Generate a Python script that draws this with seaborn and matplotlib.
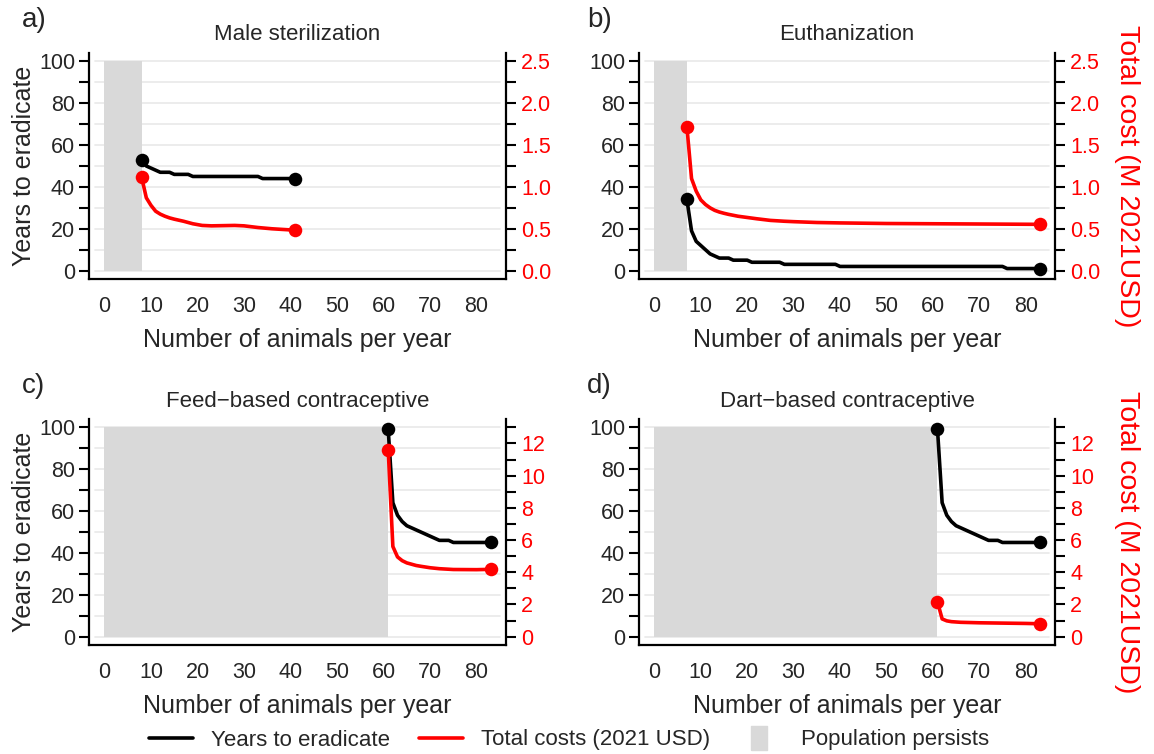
import matplotlib
matplotlib.use("Agg")
import matplotlib.pyplot as plt
from matplotlib.ticker import MultipleLocator, FixedLocator, FormatStrFormatter
from matplotlib.lines import Line2D
import seaborn as sns

sns.set_style("white")
plt.rcParams['font.family'] = ['Liberation Sans', 'DejaVu Sans']

# ---- data ----
titles = ["Male sterilization", "Euthanization", "Feed\u2212based contraceptive", "Dart\u2212based contraceptive"]
letters = ["a)", "b)", "c)", "d)"]
persist_until = [8, 7, 61, 61]      # population persists below this many animals/yr

# a) male sterilization
ms_years_x = [8, 9, 10, 11, 12, 14, 15, 18, 19, 33, 34, 41]
ms_years = [53, 50, 49, 48, 47, 47, 46, 46, 45, 45, 44, 44]
ms_cost_x = [8, 9, 10, 11, 12, 13, 14, 15, 17, 19, 21, 23, 28, 30, 33, 36, 41]
ms_cost = [1.115, 0.87, 0.78, 0.71, 0.675, 0.65, 0.63, 0.615, 0.59, 0.56, 0.54, 0.535, 0.54, 0.535, 0.515, 0.50, 0.483]

# b) euthanization
eu_years_x = [7, 8, 9, 10, 11, 12, 13, 14, 16, 17, 20, 21, 27, 28, 39, 40, 75, 76, 83]
eu_years = [34, 19, 14, 12, 10, 8, 7, 6, 6, 5, 5, 4, 4, 3, 3, 2, 2, 1, 1]
eu_cost_x = [7, 8, 9, 10, 11, 12, 13, 14, 15, 16, 18, 20, 22, 25, 28, 30, 35, 40, 50, 60, 70, 83]
eu_cost = [1.72, 1.10, 0.95, 0.845, 0.79, 0.75, 0.72, 0.70, 0.685, 0.672, 0.65, 0.635, 0.62, 0.60,
           0.59, 0.585, 0.575, 0.57, 0.563, 0.56, 0.557, 0.553]

# c) feed-based contraceptive
fb_years_x = [61, 62, 63, 64, 65, 66, 67, 68, 69, 70, 71, 72, 74, 75, 83]
fb_years = [99, 64, 58, 55, 53, 52, 51, 50, 49, 48, 47, 46, 46, 45, 45]
fb_cost_x = [61, 62, 63, 64, 65, 66, 67, 68, 70, 72, 75, 80, 83]
fb_cost = [11.6, 5.6, 4.95, 4.72, 4.58, 4.5, 4.42, 4.37, 4.28, 4.22, 4.17, 4.16, 4.18]

# d) dart-based contraceptive
db_years_x = [61, 62, 63, 64, 65, 66, 67, 68, 69, 70, 71, 72, 74, 75, 83]
db_years = [99, 64, 58, 55, 53, 52, 51, 50, 49, 48, 47, 46, 46, 45, 45]
db_cost_x = [61, 62, 63, 64, 66, 70, 75, 80, 83]
db_cost = [2.16, 1.10, 0.98, 0.93, 0.89, 0.86, 0.84, 0.82, 0.80]

years_x = [ms_years_x, eu_years_x, fb_years_x, db_years_x]
years = [ms_years, eu_years, fb_years, db_years]
cost_x = [ms_cost_x, eu_cost_x, fb_cost_x, db_cost_x]
cost = [ms_cost, eu_cost, fb_cost, db_cost]

x_max = 83
years_max = 100
cost_top = [2.5, 2.5, 13, 13]       # right axis value at years_max
cost_major = [0.5, 0.5, 2, 2]
cost_minor = [0.25, 0.25, 1, 1]
cost_fmt = ["%.1f", "%.1f", "%d", "%d"]

# ---- layout ----
W, H = 1154, 754
fig = plt.figure(figsize=(W / 100, H / 100), dpi=100)


def rect(l, t, r, b):
    return [l / W, 1 - b / H, (r - l) / W, (b - t) / H]


boxes = [(89, 53, 506, 279), (639, 53, 1055, 279), (89, 419, 506, 645), (639, 419, 1055, 645)]
RED = "#ff0000"
GREY = "#d9d9d9"
LW = 2.6
TICK_FS = 15.5
LAB_FS = 18

for i in range(4):
    ax = fig.add_axes(rect(*boxes[i]))
    ax2 = ax.twinx()
    pad_x = 0.04 * x_max
    pad_y = 0.04 * years_max
    ax.set_xlim(-pad_x, x_max + pad_x)
    ax.set_ylim(-pad_y, years_max + pad_y)
    k = cost_top[i] / years_max
    ax2.set_ylim(-pad_y * k, (years_max + pad_y) * k)

    # horizontal grid
    for g in range(0, years_max + 1, 10):
        ax.axhline(g, xmin=0.015, xmax=0.985, color="#ebebeb", lw=1.3, zorder=0)

    # population persists area
    ax.fill_between([0, persist_until[i]], 0, years_max, color=GREY, lw=0, zorder=1)

    sns.lineplot(x=years_x[i], y=years[i], ax=ax, color="black", lw=LW, zorder=3,
                 solid_joinstyle="round", solid_capstyle="round")
    ax.scatter([years_x[i][0], years_x[i][-1]], [years[i][0], years[i][-1]],
               s=95, color="black", zorder=4, linewidths=0)

    sns.lineplot(x=cost_x[i], y=cost[i], ax=ax2, color=RED, lw=LW, zorder=3,
                 solid_joinstyle="round", solid_capstyle="round")
    ax2.scatter([cost_x[i][0], cost_x[i][-1]], [cost[i][0], cost[i][-1]],
                s=95, color=RED, zorder=4, linewidths=0)

    # ticks
    ax.xaxis.set_major_locator(FixedLocator(range(0, 81, 10)))
    ax.xaxis.set_minor_locator(FixedLocator(range(0, 81, 5)))
    ax.yaxis.set_major_locator(MultipleLocator(20))
    ax.yaxis.set_minor_locator(MultipleLocator(10))
    ax2.yaxis.set_major_locator(MultipleLocator(cost_major[i]))
    ax2.yaxis.set_minor_locator(MultipleLocator(cost_minor[i]))
    ax2.yaxis.set_major_formatter(FormatStrFormatter(cost_fmt[i]))

    for a in (ax, ax2):
        a.tick_params(which="both", direction="out", length=7, width=1.5,
                      labelsize=TICK_FS, color="black")
        a.set_xlabel("")
        a.set_ylabel("")
    ax.tick_params(axis="x", pad=5)
    ax.tick_params(axis="y", pad=3)
    ax2.tick_params(axis="y", labelcolor=RED, pad=4)

    for s in ["top", "right"]:
        ax.spines[s].set_visible(False)
    for s in ["top", "left", "bottom"]:
        ax2.spines[s].set_visible(False)
    for s in ["left", "bottom"]:
        ax.spines[s].set_linewidth(1.6)
        ax.spines[s].set_color("black")
    ax2.spines["right"].set_linewidth(1.6)
    ax2.spines["right"].set_color("black")

    ax.set_xlabel("Number of animals per year", fontsize=LAB_FS, labelpad=8)
    ax.set_title(titles[i], fontsize=16, pad=9)
    if i % 2 == 0:
        ax.set_ylabel("Years to eradicate", fontsize=LAB_FS, labelpad=2)
    else:
        l, t, r, b = boxes[i]
        fig.text((r + 72) / W, 1 - ((t + b) / 2 + 10) / H, "Total cost (M 2021USD)",
                 rotation=270, color=RED, fontsize=20.5, ha="center", va="center")

    l, t, r, b = boxes[i]
    fig.text((l - 67 if i % 2 == 0 else l - 52) / W, 1 - (t - 33) / H, letters[i],
             fontsize=20, ha="left", va="center")

# legend (grey swatch drawn as a tall box inside its handle slot)
rect_marker = [(-7.56, -8.65), (4.68, -8.65), (4.68, 8.65), (-7.56, 8.65), (-7.56, -8.65)]
handles = [Line2D([], [], color="black", lw=LW),
           Line2D([], [], color=RED, lw=LW),
           Line2D([], [], marker=rect_marker, markersize=17.3, color=GREY, ls="none")]
labels = ["Years to eradicate", "Total costs (2021 USD)", "Population persists"]
fig.legend(handles, labels, loc="center", bbox_to_anchor=(569 / W, 1 - 740 / H), ncol=3,
           frameon=False, fontsize=16, handlelength=2.0, handletextpad=0.8, columnspacing=1.3)

fig.savefig("out.png", dpi=100)
